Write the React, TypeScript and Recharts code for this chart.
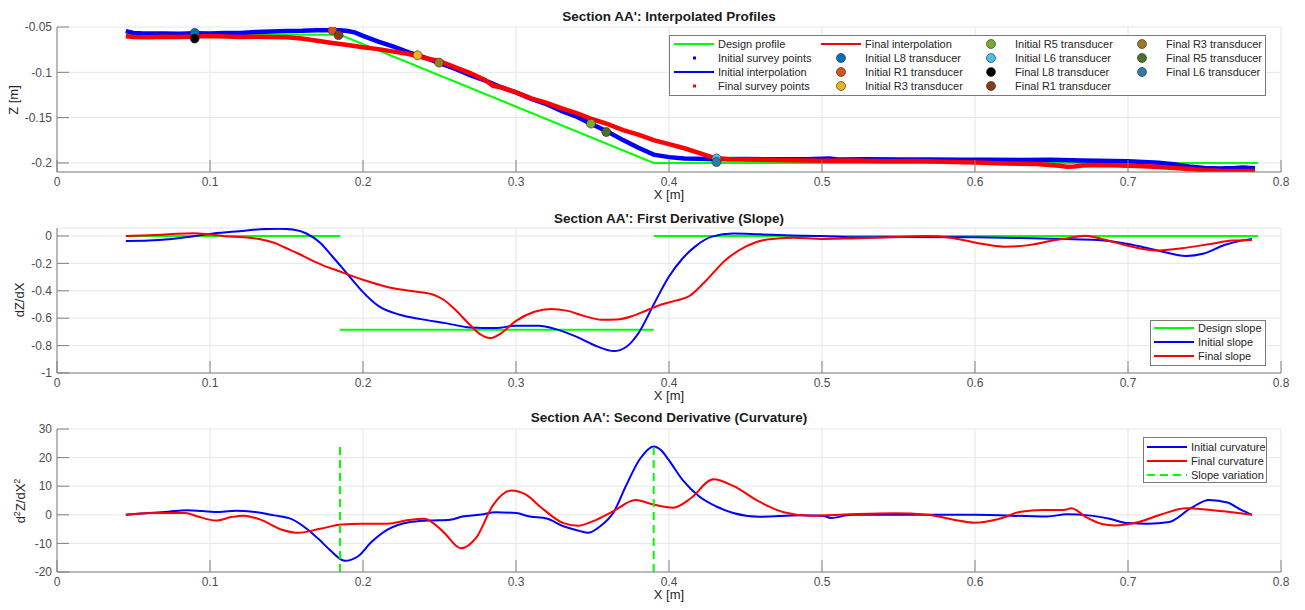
import React from "react";
import { ComposedChart, Line, Scatter, XAxis, YAxis, CartesianGrid } from "recharts";

const FONT = '"Liberation Sans", Arial, Helvetica, sans-serif';
const GREEN = "#00ff00";
const BLUE = "#0000ff";
const RED = "#ff0000";
const AXIS = "#808080";
const TICK = { fontSize: 12, fill: "#4d4d4d" };

const X_TICKS = [0, 0.1, 0.2, 0.3, 0.4, 0.5, 0.6, 0.7, 0.8];
const Z_TICKS = [-0.2, -0.15, -0.1, -0.05];
const SLOPE_TICKS = [-1, -0.8, -0.6, -0.4, -0.2, 0];
const CURV_TICKS = [-20, -10, 0, 10, 20, 30];

// ---- profiles (x [m], z [m]) ----
const DESIGN_PROFILE = [[0.045, -0.0585], [0.185, -0.0585], [0.39, -0.2], [0.785, -0.2]];

const INITIAL_SURVEY = [
  [0.045, -0.0545], [0.05, -0.0565], [0.055, -0.057], [0.06, -0.0573], [0.07, -0.0571], [0.08, -0.0574],
  [0.09, -0.057], [0.1, -0.0572], [0.11, -0.0567], [0.12, -0.0565], [0.13, -0.0555], [0.14, -0.055],
  [0.15, -0.0543], [0.16, -0.0542], [0.17, -0.0536], [0.18, -0.0537], [0.185, -0.0535], [0.19, -0.0545],
  [0.195, -0.0562], [0.2, -0.0598], [0.21, -0.0662], [0.22, -0.0716], [0.23, -0.078], [0.24, -0.0836],
  [0.25, -0.09], [0.26, -0.096], [0.27, -0.103], [0.28, -0.1092], [0.29, -0.1162], [0.3, -0.1222],
  [0.31, -0.1292], [0.32, -0.1352], [0.33, -0.1428], [0.34, -0.1492], [0.35, -0.1576], [0.36, -0.1655],
  [0.37, -0.1748], [0.38, -0.1832], [0.39, -0.1908], [0.4, -0.1936], [0.41, -0.1952], [0.42, -0.1953],
  [0.43, -0.1958], [0.45, -0.1956], [0.47, -0.196], [0.49, -0.1958], [0.505, -0.195], [0.51, -0.1961],
  [0.53, -0.196], [0.55, -0.1963], [0.57, -0.1961], [0.59, -0.1965], [0.61, -0.1966], [0.63, -0.1968],
  [0.65, -0.1966], [0.67, -0.1972], [0.69, -0.1978], [0.7, -0.1982], [0.71, -0.199], [0.72, -0.1998],
  [0.73, -0.2015], [0.74, -0.2038], [0.75, -0.2055], [0.76, -0.206], [0.77, -0.2057], [0.775, -0.205],
  [0.783, -0.2058],
];

const INITIAL_INTERP = [
  [0.045, -0.055], [0.05, -0.0566], [0.06, -0.0572], [0.07, -0.0574], [0.08, -0.0572], [0.09, -0.0571],
  [0.1, -0.0571], [0.11, -0.0568], [0.12, -0.0564], [0.13, -0.0557], [0.14, -0.0549], [0.15, -0.0545],
  [0.16, -0.0541], [0.17, -0.0537], [0.18, -0.0536], [0.187, -0.054], [0.193, -0.0558], [0.2, -0.06],
  [0.21, -0.066], [0.22, -0.0718], [0.23, -0.0778], [0.24, -0.0838], [0.25, -0.0898], [0.26, -0.0962],
  [0.27, -0.1028], [0.28, -0.1095], [0.29, -0.116], [0.3, -0.1225], [0.31, -0.129], [0.32, -0.1355],
  [0.33, -0.1425], [0.34, -0.1495], [0.35, -0.1573], [0.36, -0.1658], [0.37, -0.1745], [0.38, -0.1835],
  [0.39, -0.1905], [0.4, -0.1938], [0.41, -0.195], [0.42, -0.1955], [0.43, -0.1957], [0.45, -0.1958],
  [0.5, -0.196], [0.55, -0.1962], [0.6, -0.1965], [0.65, -0.197], [0.7, -0.1985], [0.72, -0.2],
  [0.74, -0.2035], [0.75, -0.2055], [0.76, -0.2058], [0.77, -0.2058], [0.783, -0.2055],
];

const FINAL_SURVEY = [
  [0.045, -0.0603], [0.05, -0.061], [0.06, -0.0612], [0.07, -0.0607], [0.08, -0.061], [0.09, -0.0606],
  [0.1, -0.06], [0.11, -0.0604], [0.12, -0.061], [0.13, -0.0608], [0.14, -0.0611], [0.15, -0.0613],
  [0.16, -0.0628], [0.17, -0.0652], [0.18, -0.0677], [0.19, -0.0699], [0.2, -0.0724], [0.21, -0.0744],
  [0.22, -0.0772], [0.23, -0.0798], [0.24, -0.084], [0.25, -0.0878], [0.26, -0.0942], [0.27, -0.1008],
  [0.28, -0.1088], [0.285, -0.115], [0.29, -0.1165], [0.3, -0.1222], [0.31, -0.1288], [0.32, -0.1338],
  [0.33, -0.1398], [0.34, -0.1452], [0.35, -0.1518], [0.36, -0.1572], [0.37, -0.1638], [0.38, -0.1688],
  [0.39, -0.1748], [0.4, -0.1792], [0.41, -0.1838], [0.42, -0.1892], [0.43, -0.1946], [0.44, -0.196],
  [0.46, -0.1966], [0.48, -0.197], [0.5, -0.1976], [0.52, -0.1974], [0.54, -0.1982], [0.56, -0.1978],
  [0.58, -0.1986], [0.6, -0.1995], [0.62, -0.2006], [0.64, -0.2012], [0.655, -0.203], [0.66, -0.2042],
  [0.665, -0.204], [0.67, -0.2028], [0.68, -0.2022], [0.69, -0.2026], [0.7, -0.203], [0.71, -0.2036],
  [0.72, -0.2046], [0.73, -0.2056], [0.74, -0.2068], [0.75, -0.208], [0.76, -0.2086], [0.77, -0.2088],
  [0.783, -0.209],
];

const FINAL_INTERP = [
  [0.045, -0.0605], [0.06, -0.061], [0.08, -0.0608], [0.1, -0.0601], [0.12, -0.0607], [0.14, -0.0611],
  [0.15, -0.0613], [0.16, -0.0629], [0.17, -0.0652], [0.18, -0.0677], [0.19, -0.07], [0.2, -0.0722],
  [0.21, -0.0745], [0.22, -0.077], [0.23, -0.08], [0.24, -0.0838], [0.25, -0.088], [0.26, -0.094],
  [0.27, -0.101], [0.28, -0.1085], [0.29, -0.116], [0.3, -0.1225], [0.31, -0.1285], [0.32, -0.134],
  [0.33, -0.1395], [0.34, -0.1455], [0.35, -0.1515], [0.36, -0.1575], [0.37, -0.1635], [0.38, -0.169],
  [0.39, -0.1745], [0.4, -0.1795], [0.41, -0.1838], [0.42, -0.1892], [0.43, -0.1943], [0.44, -0.196],
  [0.45, -0.1965], [0.5, -0.1975], [0.55, -0.198], [0.6, -0.1995], [0.62, -0.2005], [0.65, -0.2018],
  [0.66, -0.2038], [0.67, -0.203], [0.68, -0.2022], [0.7, -0.203], [0.72, -0.2045], [0.74, -0.2068],
  [0.76, -0.2085], [0.783, -0.209],
];

// transducer positions
const TRANSDUCER_NAMES = [
  "Initial L8 transducer", "Initial R1 transducer", "Initial R3 transducer", "Initial R5 transducer",
  "Initial L6 transducer", "Final L8 transducer", "Final R1 transducer", "Final R3 transducer",
  "Final R5 transducer", "Final L6 transducer",
];
const TRANSDUCER_X = [0.09, 0.18, 0.2357, 0.349, 0.431, 0.09, 0.184, 0.2497, 0.359, 0.431];
const TRANSDUCER_Z = [-0.0565, -0.0537, -0.0812, -0.1566, -0.195, -0.0628, -0.059, -0.0893, -0.1659, -0.199];
const TRANSDUCER_COLORS = [
  "#0072bd", "#d95319", "#edb120", "#77ac30", "#4dbeee",
  "#000000", "#8b3a12", "#9c7a1e", "#4b702a", "#2e7ca3",
];

// ---- first derivative ----
const DESIGN_SLOPE = [
  [0.045, 0], [0.185, 0], [0.185, null], [0.185, -0.685], [0.39, -0.685], [0.39, null], [0.39, 0], [0.785, 0],
];
const INITIAL_SLOPE = [
  [0.045, -0.036], [0.06, -0.033], [0.073, -0.024], [0.087, -0.005], [0.1, 0.015], [0.117, 0.032],
  [0.133, 0.049], [0.145, 0.053], [0.155, 0.045], [0.163, 0.018], [0.172, -0.05], [0.18, -0.15],
  [0.187, -0.24], [0.193, -0.32], [0.2, -0.41], [0.21, -0.51], [0.224, -0.575], [0.238, -0.607],
  [0.254, -0.636], [0.27, -0.668], [0.287, -0.672], [0.3, -0.655], [0.315, -0.655], [0.326, -0.68],
  [0.339, -0.733], [0.353, -0.806], [0.364, -0.84], [0.372, -0.81], [0.38, -0.71], [0.39, -0.5],
  [0.4, -0.296], [0.409, -0.163], [0.417, -0.078], [0.428, -0.005], [0.442, 0.018], [0.459, 0.012],
  [0.48, 0.004], [0.5, 0], [0.519, -0.01], [0.55, -0.008], [0.6, -0.01], [0.63, -0.015], [0.658, -0.022],
  [0.68, -0.029], [0.7, -0.058], [0.718, -0.102], [0.738, -0.146], [0.749, -0.13], [0.763, -0.066],
  [0.774, -0.034], [0.781, -0.022],
];
const FINAL_SLOPE = [
  [0.045, 0], [0.06, 0.005], [0.073, 0.012], [0.089, 0.02], [0.1, 0.01], [0.11, -0.002], [0.122, -0.01],
  [0.133, -0.024], [0.142, -0.05], [0.15, -0.09], [0.158, -0.13], [0.166, -0.175], [0.175, -0.22],
  [0.183, -0.252], [0.2, -0.32], [0.216, -0.372], [0.232, -0.402], [0.245, -0.425], [0.252, -0.46],
  [0.26, -0.535], [0.27, -0.65], [0.277, -0.72], [0.283, -0.745], [0.29, -0.712], [0.3, -0.62],
  [0.312, -0.553], [0.323, -0.533], [0.333, -0.545], [0.345, -0.585], [0.356, -0.612], [0.366, -0.61],
  [0.376, -0.585], [0.386, -0.54], [0.395, -0.5], [0.405, -0.47], [0.413, -0.44], [0.423, -0.34],
  [0.437, -0.175], [0.45, -0.078], [0.464, -0.026], [0.481, -0.013], [0.5, -0.022], [0.519, -0.018],
  [0.545, -0.01], [0.569, -0.001], [0.586, -0.016], [0.602, -0.053], [0.619, -0.078], [0.635, -0.067],
  [0.65, -0.035], [0.66, -0.018], [0.672, 0.002], [0.685, -0.028], [0.7, -0.072], [0.718, -0.106],
  [0.735, -0.09], [0.754, -0.058], [0.768, -0.034], [0.781, -0.029],
];

// ---- second derivative ----
const INITIAL_CURV = [
  [0.045, 0], [0.06, 0.6], [0.073, 1.1], [0.085, 1.6], [0.095, 1.3], [0.106, 1.0], [0.117, 1.4],
  [0.128, 1.1], [0.142, -0.2], [0.153, -1.4], [0.164, -5.2], [0.171, -8.5], [0.178, -12.1], [0.188, -16.1],
  [0.197, -14.4], [0.205, -9.8], [0.216, -5.2], [0.23, -2.6], [0.243, -2.0], [0.257, -1.7], [0.265, -0.6],
  [0.276, 0], [0.287, 0.9], [0.3, 0.6], [0.309, -0.6], [0.32, -1.3], [0.331, -4.0], [0.342, -5.7],
  [0.347, -6.3], [0.355, -4.0], [0.364, 1.1], [0.372, 10.3], [0.381, 19.5], [0.39, 23.9], [0.395, 22.5],
  [0.4, 19], [0.409, 12.1], [0.42, 6.3], [0.431, 2.9], [0.442, 0.6], [0.459, -0.7], [0.486, -0.2],
  [0.5, -0.3], [0.506, -1.1], [0.519, 0], [0.6, 0], [0.647, -0.6], [0.66, 0.2], [0.674, -0.2],
  [0.688, -1.4], [0.7, -2.9], [0.713, -3.1], [0.727, -2.5], [0.741, 2.3], [0.753, 5.2], [0.765, 4.3],
  [0.774, 1.7], [0.781, 0],
];
const FINAL_CURV = [
  [0.045, 0], [0.062, 0.6], [0.084, 0.6], [0.092, -0.6], [0.104, -2.0], [0.114, -0.8], [0.122, -0.3],
  [0.133, -1.7], [0.147, -5.2], [0.158, -6.3], [0.172, -4.9], [0.186, -3.4], [0.199, -3.1], [0.216, -3.1],
  [0.23, -1.8], [0.24, -1.4], [0.252, -5.7], [0.264, -11.7], [0.274, -8.0], [0.285, 3.4], [0.297, 8.5],
  [0.306, 7.2], [0.317, 2.3], [0.331, -2.9], [0.341, -3.8], [0.35, -2.3], [0.364, 1.4], [0.378, 5.2],
  [0.389, 3.7], [0.403, 2.5], [0.414, 5.7], [0.429, 12.4], [0.442, 10.1], [0.459, 4.6], [0.475, 0.9],
  [0.492, -0.3], [0.519, 0.2], [0.547, 0.5], [0.569, 0], [0.586, -1.7], [0.6, -2.8], [0.616, -1.4],
  [0.63, 1.1], [0.644, 1.7], [0.658, 1.7], [0.663, 2.3], [0.672, -0.6], [0.683, -3.2], [0.691, -3.7],
  [0.707, -2.5], [0.721, 0], [0.738, 2.3], [0.754, 1.7], [0.768, 0.9], [0.781, 0],
];
const SLOPE_VARIATION = [[0.185, -20], [0.185, 23.8], [0.185, null], [0.39, -20], [0.39, 23.8]];

const pts = (a: (number | null)[][]) => a.map(([x, y]) => ({ x, y }));
const fmt = (v: number) => String(Math.round(v * 100) / 100);

// axes + box (MATLAB style, ticks pointing in)
function frame(domain: [number, number], ticks: number[]) {
  return [
    <CartesianGrid key="g" stroke="#e6e6e6" />,
    <XAxis key="xb" dataKey="x" type="number" domain={[0, 0.8]} ticks={X_TICKS} interval={0} height={38}
      stroke={AXIS} tickSize={-12} tickMargin={17} tick={TICK} tickFormatter={fmt} allowDataOverflow
      label={{ value: "X [m]", position: "insideTop", offset: 18, fill: "#262626", fontSize: 13 }} />,
    <XAxis key="xt" xAxisId="top" orientation="top" type="number" domain={[0, 0.8]} ticks={X_TICKS}
      interval={0} height={0} stroke={AXIS} tickSize={-12} tick={false} allowDataOverflow />,
    <YAxis key="yl" dataKey="y" type="number" domain={domain} ticks={ticks} interval={0} width={57}
      stroke={AXIS} tickSize={-12} tickMargin={17} tick={TICK} tickFormatter={fmt} allowDataOverflow />,
    <YAxis key="yr" yAxisId="right" orientation="right" type="number" domain={domain} ticks={ticks}
      interval={0} width={0} stroke={AXIS} tickSize={-12} tick={false} allowDataOverflow />,
  ];
}

type Entry = { label: string; kind: string; color: string };

function LegendBox({ left, top, width, height, rows, colStarts, padTop, entries }:
  { left: number; top: number; width: number; height: number; rows: number; colStarts: number[]; padTop: number; entries: Entry[] }) {
  return (
    <div style={{ position: "absolute", left, top, width, height, boxSizing: "border-box", border: "1px solid #7a7a7a", background: "#fff" }}>
      {entries.map((e, i) => {
        const col = Math.floor(i / rows);
        const row = i % rows;
        return (
          <div key={e.label} style={{ position: "absolute", left: colStarts[col], top: padTop + row * 14, height: 14, display: "flex", alignItems: "center", whiteSpace: "nowrap" }}>
            <svg width={40} height={14}>
              {e.kind === "line" && <line x1={0} x2={40} y1={7} y2={7} stroke={e.color} strokeWidth={2} />}
              {e.kind === "dash" && <line x1={0} x2={40} y1={7} y2={7} stroke={e.color} strokeWidth={2} strokeDasharray="8 5" />}
              {e.kind === "square" && <rect x={19} y={5.5} width={3} height={3} fill={e.color} />}
              {e.kind === "circle" && <circle cx={20} cy={7} r={4.5} fill={e.color} stroke="#262626" strokeWidth={0.6} />}
            </svg>
            <span style={{ marginLeft: 4, fontSize: 11, color: "#262626" }}>{e.label}</span>
          </div>
        );
      })}
    </div>
  );
}

const PROFILE_LEGEND: Entry[] = [
  { label: "Design profile", kind: "line", color: GREEN },
  { label: "Initial survey points", kind: "square", color: BLUE },
  { label: "Initial interpolation", kind: "line", color: BLUE },
  { label: "Final survey points", kind: "square", color: RED },
  { label: "Final interpolation", kind: "line", color: RED },
  ...TRANSDUCER_NAMES.map((n, i) => ({ label: n, kind: "circle", color: TRANSDUCER_COLORS[i] })),
];
const SLOPE_LEGEND: Entry[] = [
  { label: "Design slope", kind: "line", color: GREEN },
  { label: "Initial slope", kind: "line", color: BLUE },
  { label: "Final slope", kind: "line", color: RED },
];
const CURV_LEGEND: Entry[] = [
  { label: "Initial curvature", kind: "line", color: BLUE },
  { label: "Final curvature", kind: "line", color: RED },
  { label: "Slope variation", kind: "dash", color: GREEN },
];

const titleStyle: React.CSSProperties = {
  position: "absolute", left: 57, width: 1224, textAlign: "center", fontSize: 13.5,
  fontWeight: "bold", color: "#1a1a1a", lineHeight: "16px",
};
const yLabelStyle: React.CSSProperties = {
  position: "absolute", transform: "translate(-50%, -50%) rotate(-90deg)", fontSize: 13,
  color: "#262626", whiteSpace: "nowrap",
};

const MARGIN = { top: 27, right: 24, bottom: 0, left: 0 };

export default function App() {
  return (
    <div style={{ position: "absolute", left: 0, top: 0, width: 1305, height: 610, overflow: "hidden", background: "#fff", fontFamily: FONT }}>
      {/* profiles */}
      <div style={{ position: "absolute", left: 0, top: 0 }}>
        <ComposedChart width={1305} height={210} margin={MARGIN}>
          {frame([-0.21, -0.05], Z_TICKS)}
          <Line data={pts(DESIGN_PROFILE)} dataKey="y" type="linear" stroke={GREEN} strokeWidth={2} dot={false} activeDot={false} isAnimationActive={false} />
          <Line data={pts(INITIAL_SURVEY)} dataKey="y" type="linear" stroke={BLUE} strokeWidth={4.5} dot={false} activeDot={false} isAnimationActive={false} />
          <Line data={pts(INITIAL_INTERP)} dataKey="y" type="monotone" stroke={BLUE} strokeWidth={2} dot={false} activeDot={false} isAnimationActive={false} />
          <Line data={pts(FINAL_SURVEY)} dataKey="y" type="linear" stroke={RED} strokeWidth={4.5} dot={false} activeDot={false} isAnimationActive={false} />
          <Line data={pts(FINAL_INTERP)} dataKey="y" type="monotone" stroke={RED} strokeWidth={2} dot={false} activeDot={false} isAnimationActive={false} />
          {TRANSDUCER_NAMES.map((n, i) => (
            <Scatter key={n} name={n} data={[{ x: TRANSDUCER_X[i], y: TRANSDUCER_Z[i] }]} fill={TRANSDUCER_COLORS[i]} isAnimationActive={false}
              shape={(p: any) => <circle cx={p.cx} cy={p.cy} r={4.5} fill={TRANSDUCER_COLORS[i]} stroke="#262626" strokeWidth={0.6} />} />
          ))}
        </ComposedChart>
      </div>

      {/* first derivative */}
      <div style={{ position: "absolute", left: 0, top: 201 }}>
        <ComposedChart width={1305} height={210} margin={MARGIN}>
          {frame([-1, 0.058], SLOPE_TICKS)}
          <Line data={pts(DESIGN_SLOPE)} dataKey="y" type="linear" stroke={GREEN} strokeWidth={2} dot={false} activeDot={false} isAnimationActive={false} />
          <Line data={pts(INITIAL_SLOPE)} dataKey="y" type="monotone" stroke={BLUE} strokeWidth={2} dot={false} activeDot={false} isAnimationActive={false} />
          <Line data={pts(FINAL_SLOPE)} dataKey="y" type="monotone" stroke={RED} strokeWidth={2} dot={false} activeDot={false} isAnimationActive={false} />
        </ComposedChart>
      </div>

      {/* second derivative */}
      <div style={{ position: "absolute", left: 0, top: 402 }}>
        <ComposedChart width={1305} height={208} margin={MARGIN}>
          {frame([-20, 30], CURV_TICKS)}
          <Line data={pts(INITIAL_CURV)} dataKey="y" type="monotone" stroke={BLUE} strokeWidth={2} dot={false} activeDot={false} isAnimationActive={false} />
          <Line data={pts(FINAL_CURV)} dataKey="y" type="monotone" stroke={RED} strokeWidth={2} dot={false} activeDot={false} isAnimationActive={false} />
          <Line data={pts(SLOPE_VARIATION)} dataKey="y" type="linear" stroke={GREEN} strokeWidth={2} strokeDasharray="8 5" dot={false} activeDot={false} isAnimationActive={false} />
        </ComposedChart>
      </div>

      <div style={{ ...titleStyle, top: 9 }}>Section AA': Interpolated Profiles</div>
      <div style={{ ...titleStyle, top: 211 }}>Section AA': First Derivative (Slope)</div>
      <div style={{ ...titleStyle, top: 410 }}>Section AA': Second Derivative (Curvature)</div>

      <div style={{ ...yLabelStyle, left: 13, top: 100 }}>Z [m]</div>
      <div style={{ ...yLabelStyle, left: 19, top: 300 }}>dZ/dX</div>
      <div style={{ ...yLabelStyle, left: 20, top: 501 }}>
        d<sup style={{ fontSize: 9 }}>2</sup>Z/dX<sup style={{ fontSize: 9 }}>2</sup>
      </div>

      <LegendBox left={669} top={35} width={597} height={61} rows={4} colStarts={[4, 151, 301, 452]} padTop={1} entries={PROFILE_LEGEND} />
      <LegendBox left={1150} top={320} width={116} height={46} rows={3} colStarts={[3]} padTop={0} entries={SLOPE_LEGEND} />
      <LegendBox left={1143} top={437} width={124} height={46} rows={3} colStarts={[3]} padTop={2} entries={CURV_LEGEND} />
    </div>
  );
}
